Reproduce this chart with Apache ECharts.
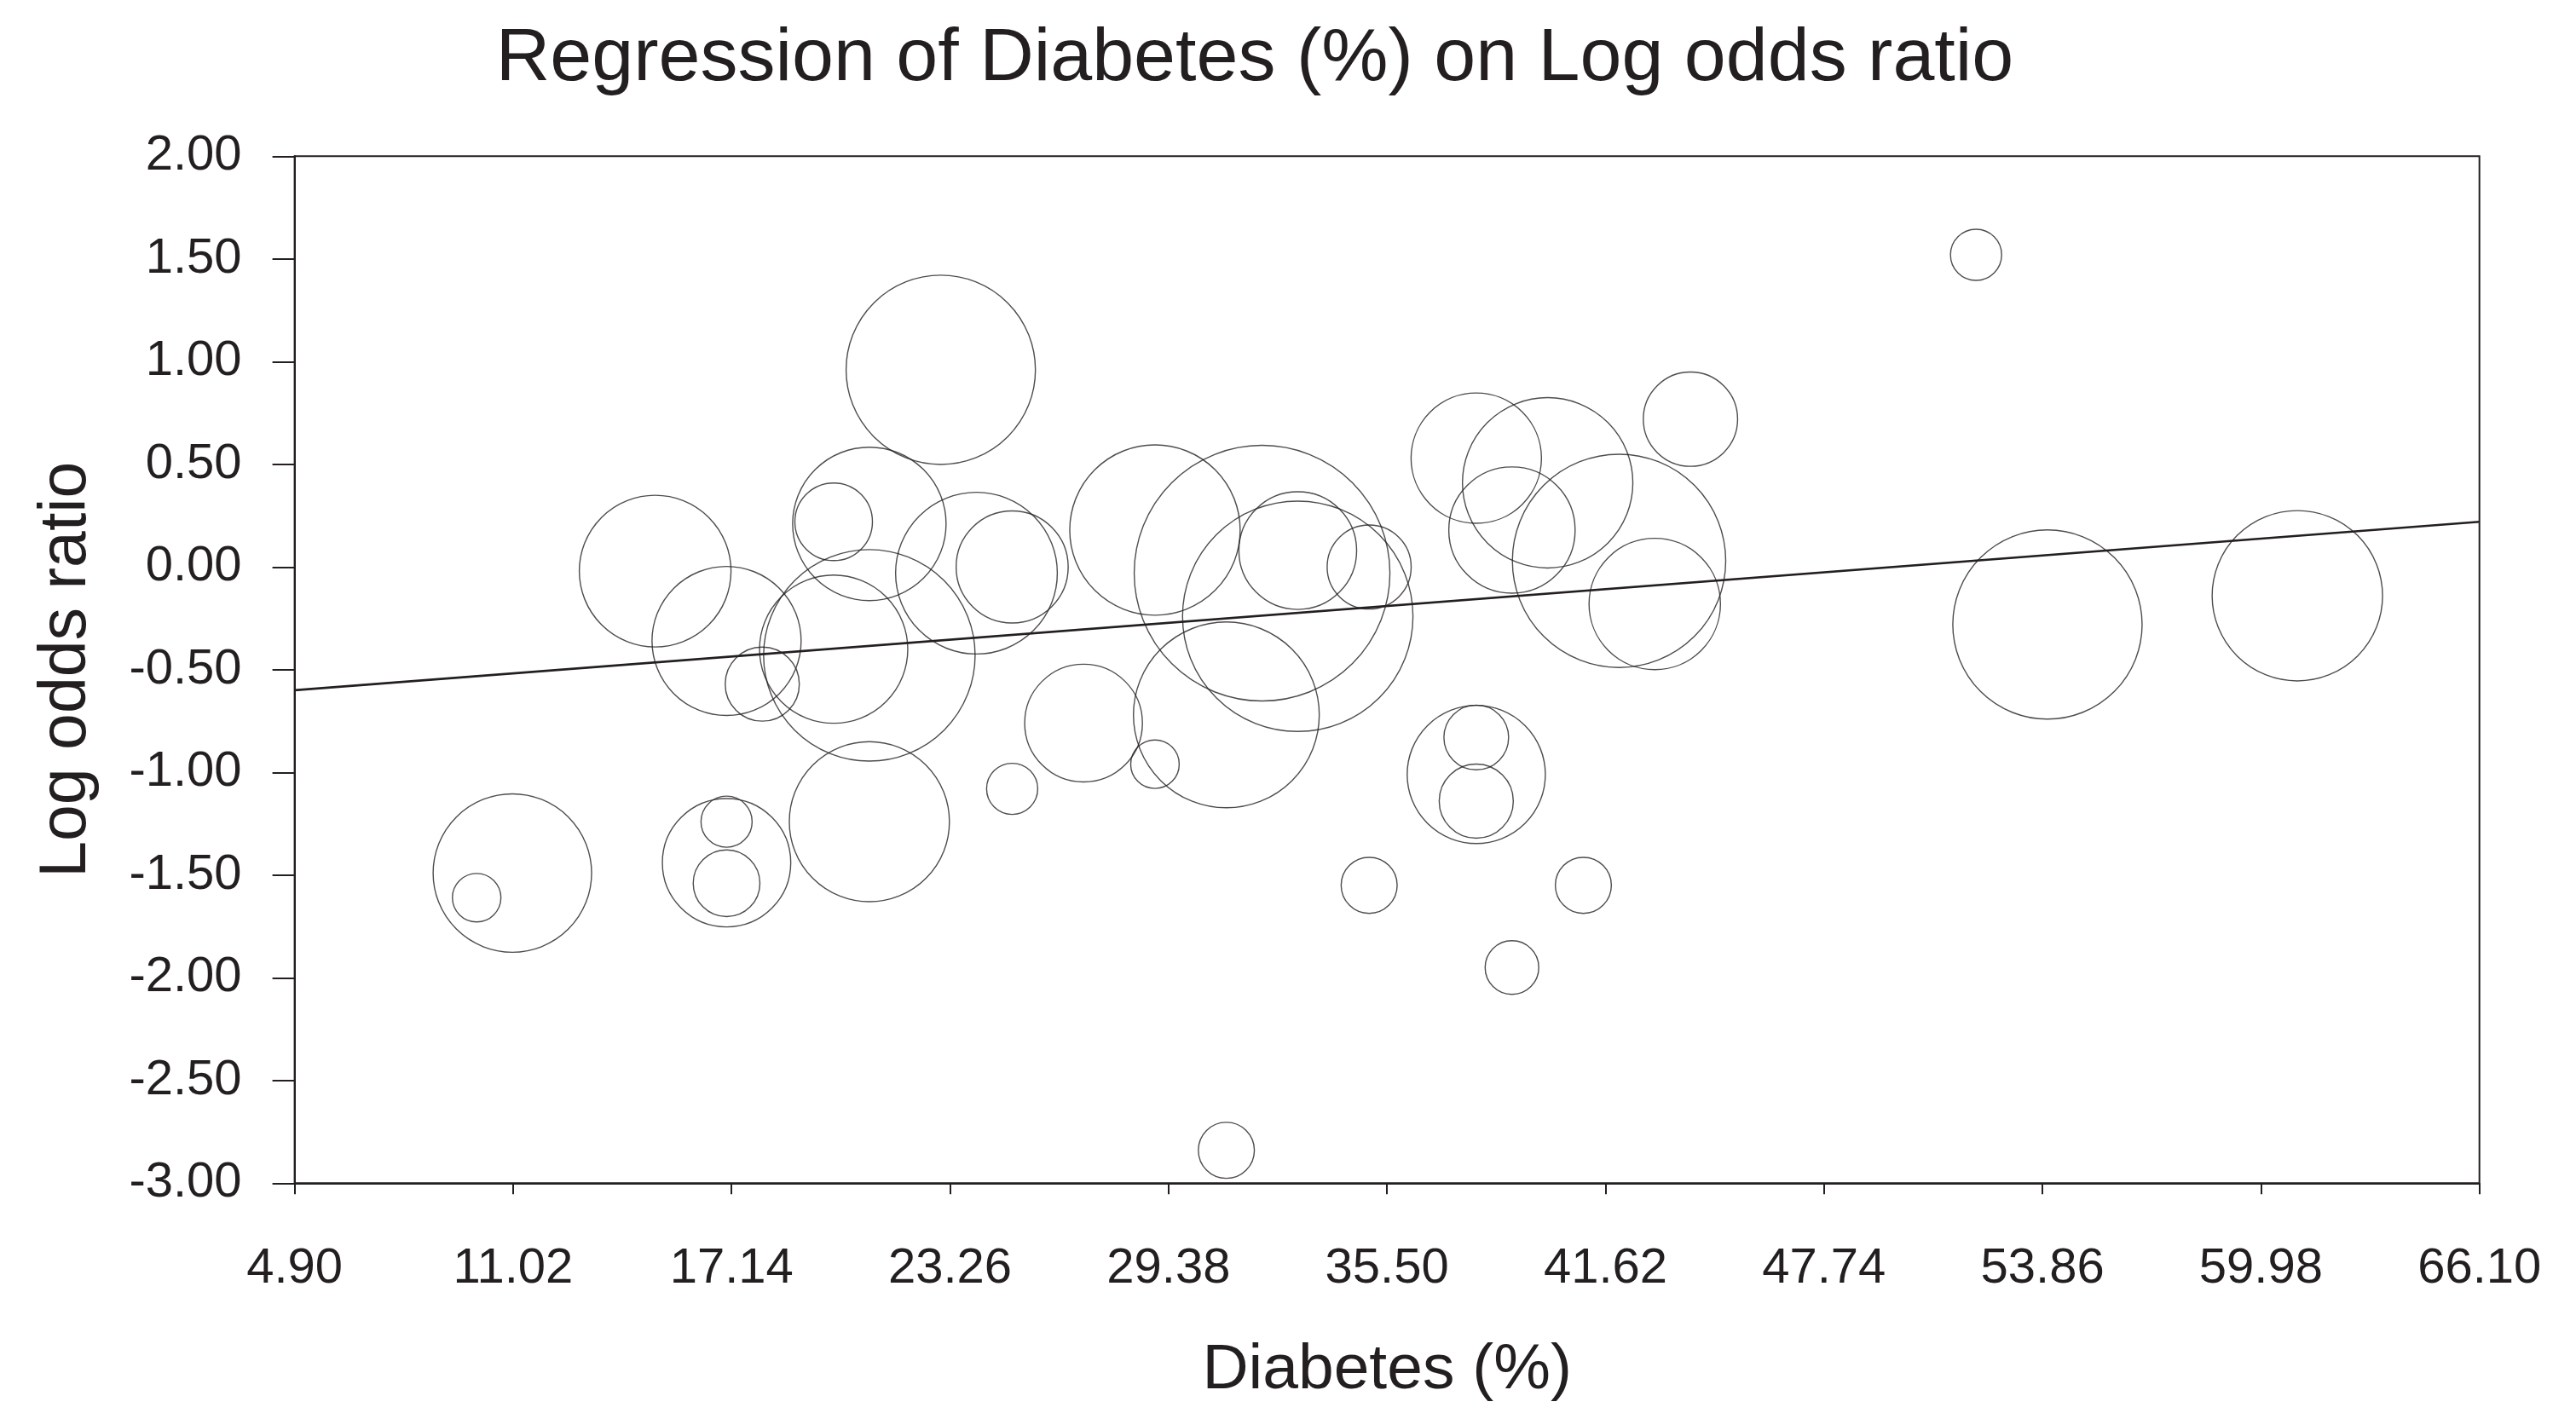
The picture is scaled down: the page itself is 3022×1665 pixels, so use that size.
<!DOCTYPE html>
<html>
<head>
<meta charset="utf-8">
<script src="https://cdn.jsdelivr.net/npm/echarts@6/dist/echarts.min.js"></script>
<style>
html,body{margin:0;padding:0;background:#fff;}
#chart{width:3022px;height:1665px;}
</style>
</head>
<body>
<div id="chart"></div>
<script>
// Diabetes (%) of each study
const diabetes = [23,21,20,15,17,18,20,21,24,25,21,25,11,10,17,17,17,29,32,33,33,35,31,27,29,38,38,38,35,38,40,39,42,43,44,52,54,61,41,39,31];
// Log odds ratio of each study
const logOdds = [0.96,0.21,0.22,-0.02,-0.36,-0.57,-0.40,-0.43,-0.03,0.00,-1.24,-1.08,-1.49,-1.61,-1.44,-1.24,-1.54,0.18,-0.03,0.08,-0.24,0.00,-0.72,-0.76,-0.96,-1.01,-0.83,-1.14,-1.55,0.53,0.41,0.18,0.03,-0.18,0.72,1.52,-0.28,-0.14,-1.55,-1.95,-2.84];
// Relative study weights (bubble area)
const weights = [13.7,9.0,2.3,8.8,8.5,2.1,8.4,17.1,10.0,4.8,9.8,1.0,9.6,0.9,6.3,1.0,1.7,11.1,25.0,5.3,20.3,2.7,13.2,5.3,0.9,7.3,1.6,2.1,1.2,6.5,11.1,6.1,17.4,6.6,3.4,1.0,13.7,11.1,1.2,1.1,1.2];
// Fitted regression line end points
const regX = [4.9, 66.1];
const regY = [-0.60, 0.22];
// X axis tick values
const xTicks = [4.90,11.02,17.14,23.26,29.38,35.50,41.62,47.74,53.86,59.98,66.10];

const ink = '#231f20';
const font = 'Liberation Sans';

const bubbles = diabetes.map((x, i) => [x, logOdds[i], weights[i]]);
const regLine = regX.map((x, i) => [x, regY[i]]);

const chart = echarts.init(document.getElementById('chart'), null, {renderer: 'canvas'});
chart.setOption({
  animation: false,
  backgroundColor: '#ffffff',
  textStyle: {fontFamily: font, color: ink},
  title: {
    text: 'Regression of Diabetes (%) on Log odds ratio',
    left: 1467,
    top: 21,
    textAlign: 'center',
    textStyle: {fontFamily: font, fontSize: 88, fontWeight: 'normal', color: ink}
  },
  grid: {
    left: 345.6, right: 113.3, top: 183.3, bottom: 276.7,
    show: true, borderColor: ink, borderWidth: 2, backgroundColor: 'transparent',
    outerBoundsMode: 'none', containLabel: false
  },
  xAxis: {
    type: 'value',
    min: 4.9, max: 66.1,
    name: 'Diabetes (%)',
    nameLocation: 'middle',
    nameGap: 183,
    nameTextStyle: {fontFamily: font, fontSize: 75, color: ink},
    axisLine: {show: true, onZero: false, lineStyle: {color: ink, width: 2}},
    axisTick: {show: true, customValues: xTicks, length: 13, lineStyle: {color: ink, width: 2}},
    axisLabel: {
      customValues: xTicks, margin: 72, fontSize: 58, color: ink, fontFamily: font,
      formatter: v => Number(v).toFixed(2)
    },
    splitLine: {show: false}
  },
  yAxis: {
    type: 'value',
    min: -3, max: 2, interval: 0.5,
    name: 'Log odds ratio',
    nameLocation: 'middle',
    nameGap: 228,
    nameTextStyle: {fontFamily: font, fontSize: 77, color: ink},
    axisLine: {show: true, onZero: false, lineStyle: {color: ink, width: 2}},
    axisTick: {show: true, length: 26, lineStyle: {color: ink, width: 2}},
    axisLabel: {
      margin: 62, fontSize: 58, color: ink, fontFamily: font,
      formatter: v => Number(v).toFixed(2)
    },
    splitLine: {show: false}
  },
  series: [
    {
      type: 'scatter',
      data: bubbles,
      symbol: 'circle',
      symbolSize: d => 60 * Math.sqrt(d[2]),
      itemStyle: {color: 'rgba(0,0,0,0)', borderColor: ink, borderWidth: 1.4},
      emphasis: {disabled: true},
      z: 2
    },
    {
      type: 'line',
      data: regLine,
      symbol: 'none',
      lineStyle: {color: ink, width: 2.6},
      emphasis: {disabled: true},
      z: 3
    }
  ]
});
</script>
</body>
</html>
